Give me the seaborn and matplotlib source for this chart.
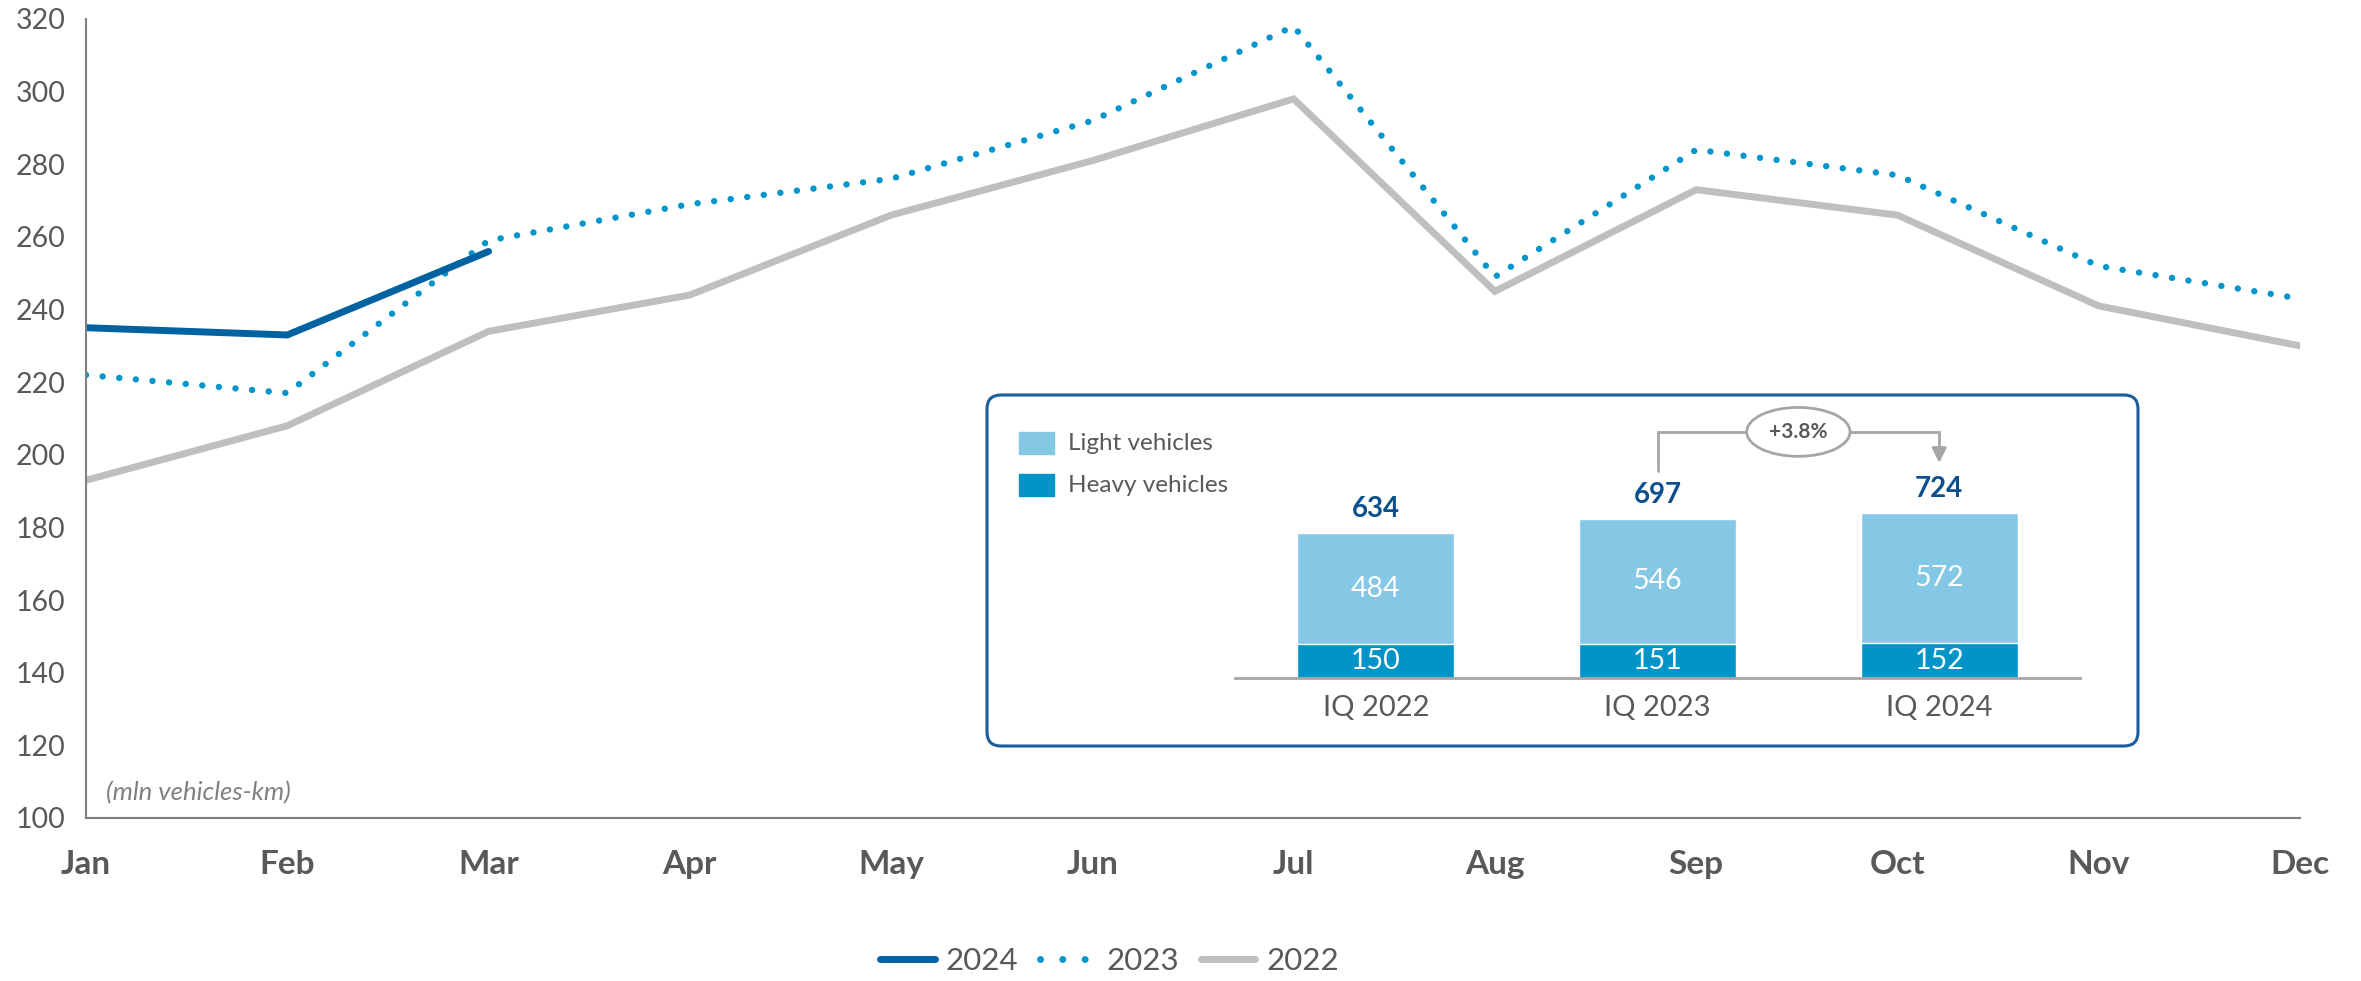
import matplotlib
matplotlib.use("Agg")
import matplotlib.pyplot as plt
import seaborn as sns
import pandas as pd
import numpy as np
from matplotlib.patches import FancyBboxPatch
from matplotlib.lines import Line2D

# monthly traffic (mln vehicles-km)
months = ["Jan", "Feb", "Mar", "Apr", "May", "Jun", "Jul", "Aug", "Sep", "Oct", "Nov", "Dec"]
y2024 = [235, 233, 256]
y2023 = [222, 217, 259, 269, 276, 292, 318, 249, 284, 277, 252, 243]
y2022 = [193, 208, 234, 244, 266, 281, 298, 245, 273, 266, 241, 230]

# inset: first quarter totals
quarters = ["IQ 2022", "IQ 2023", "IQ 2024"]
light = [484, 546, 572]
heavy = [150, 151, 152]
totals = [634, 697, 724]
growth = "+3.8%"

C2024 = "#0062A0"
C2023 = "#0096CC"
C2022 = "#BFBFBF"
LIGHT = "#84C8E6"
HEAVY = "#0094C8"
TXT = "#595959"
AXC = "#7F7F7F"

sns.set_theme(style="white")
plt.rcParams["font.family"] = ["Lato", "DejaVu Sans"]

W, H = 2361, 981
fig = plt.figure(figsize=(W / 100, H / 100), dpi=100)
ax = fig.add_axes([86 / W, 1 - 818 / H, (2300 - 86) / W, (818 - 19) / H])

d22 = pd.DataFrame({"pos": np.arange(len(y2022)), "val": y2022})
d23 = pd.DataFrame({"pos": np.arange(len(y2023)), "val": y2023})
d24 = pd.DataFrame({"pos": np.arange(len(y2024)), "val": y2024})

sns.lineplot(data=d22, x="pos", y="val", ax=ax, color=C2022, lw=5, solid_joinstyle="miter")
sns.lineplot(data=d23, x="pos", y="val", ax=ax, color=C2023, lw=4.6,
             linestyle=(0, (0.01, 2.6)), dash_capstyle="round")
sns.lineplot(data=d24, x="pos", y="val", ax=ax, color=C2024, lw=5, solid_joinstyle="miter")

ax.set_xlim(0, 11)
ax.set_ylim(100, 320)
ax.set_yticks(range(100, 321, 20))
ax.set_xticks(range(12))
ax.set_xticklabels(months, fontweight="bold", fontsize=24, color=TXT)
ax.tick_params(axis="y", length=0, pad=15, labelsize=20.5, labelcolor=TXT)
ax.tick_params(axis="x", length=9, width=1.5, color=AXC, pad=14, direction="out")
ax.set_xlabel("")
ax.set_ylabel("")
for s in ["top", "right"]:
    ax.spines[s].set_visible(False)
for s in ["left", "bottom"]:
    ax.spines[s].set_color(AXC)
    ax.spines[s].set_linewidth(1.5)
ax.text(0.1, 107, "(mln vehicles-km)", fontsize=18.5, style="italic", color="#808080",
        va="center", ha="left")

handles = [
    Line2D([], [], color=C2024, lw=5, solid_capstyle="round"),
    Line2D([], [], color=C2023, lw=5, linestyle=(0, (0.01, 3.2)), dash_capstyle="round"),
    Line2D([], [], color=C2022, lw=5, solid_capstyle="round"),
]
fig.legend(handles, ["2024", "2023", "2022"], loc="center", bbox_to_anchor=(0.47, 0.02),
           ncol=3, frameon=False, fontsize=22.5, handlelength=1.75, columnspacing=0.7,
           handletextpad=0.35, labelcolor=TXT)

# inset frame
bx0, bx1, by0, by1 = 985, 2140, 393, 748
axb = fig.add_axes([bx0 / W, 1 - by1 / H, (bx1 - bx0) / W, (by1 - by0) / H])
axb.set_xlim(0, bx1 - bx0)
axb.set_ylim(0, by1 - by0)
axb.axis("off")
axb.add_patch(FancyBboxPatch((2, 2), bx1 - bx0 - 4, by1 - by0 - 4,
                             boxstyle="round,pad=0,rounding_size=14",
                             fc="white", ec="#1A5E9E", lw=2.2))

# inset bars
ix0, ix1, iy0 = 1235, 2080, 678
ymax = 1200
ih = ymax / 4.38
axi = fig.add_axes([ix0 / W, 1 - iy0 / H, (ix1 - ix0) / W, ih / H])
axi.patch.set_alpha(0)
dfq = pd.DataFrame({"q": quarters, "light": light, "heavy": heavy, "total": totals})
sns.barplot(data=dfq, x="q", y="total", ax=axi, color=LIGHT, width=0.557, saturation=1)
sns.barplot(data=dfq, x="q", y="heavy", ax=axi, color=HEAVY, width=0.557, saturation=1)
axi.set_xlim(-0.5, 2.5)
axi.set_ylim(0, ymax)
axi.set_xlabel("")
axi.set_ylabel("")
axi.set_yticks([])
for s in ["top", "right", "left"]:
    axi.spines[s].set_visible(False)
axi.spines["bottom"].set_color("#A6A6A6")
axi.spines["bottom"].set_linewidth(2)
axi.tick_params(axis="x", length=0, pad=12, labelsize=21, labelcolor=TXT)

for i in range(len(quarters)):
    axi.text(i, heavy[i] / 2, str(heavy[i]), ha="center", va="center", color="white", fontsize=20.5)
    axi.text(i, heavy[i] + light[i] / 2, str(light[i]), ha="center", va="center",
             color="white", fontsize=20.5)
    axi.annotate(str(totals[i]), (i, totals[i]), xytext=(0, 8), textcoords="offset points",
                 ha="center", va="bottom", fontsize=20, fontweight="bold", color="#0B4F8C")

axi.plot([1, 1, 2, 2], [907, 1078, 1078, 1000], color="#A6A6A6", lw=2, solid_joinstyle="miter")
axi.annotate("", xy=(2, 930), xytext=(2, 1010),
             arrowprops=dict(arrowstyle="-|>", color="#A6A6A6", lw=2, mutation_scale=22))
axi.text(1.5, 1078, growth, ha="center", va="center", fontsize=15, fontweight="bold", color=TXT,
         bbox=dict(boxstyle="ellipse,pad=0.35", fc="white", ec="#A6A6A6", lw=2))

# inset legend
axb.add_patch(plt.Rectangle((1019 - bx0, by1 - 454), 35, 22, color=LIGHT))
axb.add_patch(plt.Rectangle((1019 - bx0, by1 - 496), 35, 22, color=HEAVY))
axb.text(1068 - bx0, by1 - 443, "Light vehicles", va="center", fontsize=17.5, color=TXT)
axb.text(1068 - bx0, by1 - 485, "Heavy vehicles", va="center", fontsize=17.5, color=TXT)

fig.savefig("out.png", dpi=100)
